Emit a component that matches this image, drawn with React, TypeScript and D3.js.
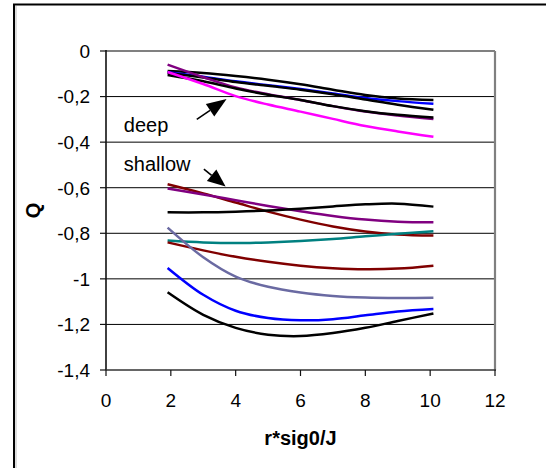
import React from "react";
import * as d3 from "d3";

// r*sig0/J sample positions shared by every curve
const xs = [1.9, 3, 4, 5, 6, 7, 8, 9, 10.1];

// deep group
const deepBlackA = [-0.088, -0.097, -0.11, -0.126, -0.146, -0.17, -0.193, -0.208, -0.215];
const deepBlue = [-0.093, -0.113, -0.133, -0.15, -0.167, -0.186, -0.206, -0.22, -0.232];
const deepBlackB = [-0.097, -0.116, -0.136, -0.153, -0.17, -0.19, -0.213, -0.236, -0.258];
const deepPurple = [-0.06, -0.115, -0.16, -0.19, -0.215, -0.242, -0.266, -0.283, -0.298];
const deepBlackC = [-0.105, -0.133, -0.165, -0.192, -0.215, -0.242, -0.264, -0.28, -0.292];
const deepMagenta = [-0.092, -0.145, -0.198, -0.235, -0.266, -0.298, -0.329, -0.353, -0.376];

// shallow group
const shMaroonUp = [-0.585, -0.625, -0.665, -0.705, -0.74, -0.77, -0.792, -0.805, -0.81];
const shPurple = [-0.603, -0.63, -0.655, -0.68, -0.703, -0.724, -0.74, -0.749, -0.752];
const shBlack = [-0.708, -0.708, -0.705, -0.7, -0.692, -0.682, -0.673, -0.67, -0.683];
const shTeal = [-0.832, -0.84, -0.843, -0.84, -0.834, -0.825, -0.813, -0.802, -0.791];
const shMaroonLow = [-0.84, -0.875, -0.903, -0.925, -0.942, -0.953, -0.958, -0.955, -0.942];
const shSlate = [-0.775, -0.905, -0.99, -1.035, -1.06, -1.075, -1.082, -1.084, -1.083];
const shBlue = [-0.952, -1.07, -1.14, -1.172, -1.182, -1.177, -1.16, -1.143, -1.132];
const shBlackLow = [-1.059, -1.158, -1.215, -1.245, -1.251, -1.238, -1.215, -1.185, -1.152];

const seriesList = [
  { values: deepBlackA, color: "#000000" },
  { values: deepBlue, color: "#0000ff" },
  { values: deepBlackB, color: "#000000" },
  { values: deepPurple, color: "#800080" },
  { values: deepBlackC, color: "#000000" },
  { values: deepMagenta, color: "#ff00ff" },
  { values: shMaroonUp, color: "#800000" },
  { values: shPurple, color: "#800080" },
  { values: shBlack, color: "#000000" },
  { values: shTeal, color: "#008080" },
  { values: shMaroonLow, color: "#800000" },
  { values: shSlate, color: "#6a6aa2" },
  { values: shBlue, color: "#0000ff" },
  { values: shBlackLow, color: "#000000" },
];

const xTicks = [0, 2, 4, 6, 8, 10, 12];
const yTicks = [0, -0.2, -0.4, -0.6, -0.8, -1, -1.2, -1.4];

// annotation arrows in data units: tail -> tip
const annotations = [
  { label: "deep", lx: 0.55, ly: -0.357, tail: [2.8, -0.3], tip: [3.72, -0.211] },
  { label: "shallow", lx: 0.55, ly: -0.525, tail: [3.02, -0.518], tip: [3.69, -0.595] },
];

const W = 546;
const H = 468;
const left = 106;
const right = 495;
const top = 51;
const bottom = 370;
const FONT = "'Liberation Sans', Arial, sans-serif";

const fmt = d3.formatLocale({
  decimal: ",",
  thousands: ".",
  grouping: [3],
  currency: ["", ""],
  minus: "-",
}).format("~g");

export default function App() {
  const x = d3.scaleLinear().domain([0, 12]).range([left, right]);
  const y = d3.scaleLinear().domain([-1.4, 0]).range([bottom, top]);
  const line = d3
    .line<number>()
    .x((_, i) => x(xs[i]))
    .y((d) => y(d))
    .curve(d3.curveCatmullRom.alpha(0.5));

  const arrow = (a: typeof annotations[number], headLen: number, headHalf: number) => {
    const tx = x(a.tail[0]);
    const ty = y(a.tail[1]);
    const px = x(a.tip[0]);
    const py = y(a.tip[1]);
    const dx = px - tx;
    const dy = py - ty;
    const len = Math.hypot(dx, dy);
    const ux = dx / len;
    const uy = dy / len;
    const bx = px - ux * headLen;
    const by = py - uy * headLen;
    const pts = [
      [px, py],
      [bx - uy * headHalf, by + ux * headHalf],
      [bx + uy * headHalf, by - ux * headHalf],
    ];
    return (
      <g>
        <line x1={tx} y1={ty} x2={bx} y2={by} stroke="#000" strokeWidth={1.6} />
        <polygon points={pts.map((p) => p.join(",")).join(" ")} fill="#000" />
      </g>
    );
  };

  return (
    <svg
      width={W}
      height={H}
      style={{ position: "absolute", left: 0, top: 0, background: "#fff" }}
      fontFamily={FONT}
    >
      <rect x={0} y={0} width={W} height={H} fill="#fff" />
      {/* chart frame */}
      <rect x={14} y={4.5} width={W + 20} height={H + 20} fill="none" stroke="#000" strokeWidth={2} />
      <line x1={16} y1={6} x2={16} y2={H} stroke="#bbb" strokeWidth={1} />

      {/* gridlines */}
      {yTicks
        .filter((t) => t !== 0 && t !== -1.4)
        .map((t) => (
          <line key={t} x1={left} x2={right} y1={y(t)} y2={y(t)} stroke="#000" strokeWidth={1} />
        ))}

      {/* plot area border */}
      <line x1={left} x2={right} y1={top} y2={top} stroke="#808080" strokeWidth={2} />
      <line x1={right} x2={right} y1={top} y2={bottom} stroke="#808080" strokeWidth={2.2} />

      {/* axes */}
      <line x1={left} x2={left} y1={top - 1} y2={bottom} stroke="#111" strokeWidth={1.6} />
      <line x1={left} x2={right + 1} y1={bottom} y2={bottom} stroke="#333" strokeWidth={1.6} />
      {yTicks.map((t) => (
        <g key={t}>
          <line x1={left - 6} x2={left} y1={y(t)} y2={y(t)} stroke="#111" strokeWidth={1.2} />
          <text x={90} y={y(t)} dy="0.36em" textAnchor="end" fontSize={19} fill="#000">
            {fmt(t)}
          </text>
        </g>
      ))}
      {xTicks.map((t) => (
        <g key={t}>
          <line x1={x(t)} x2={x(t)} y1={bottom} y2={bottom + 6} stroke="#111" strokeWidth={1.2} />
          <text x={x(t)} y={407} textAnchor="middle" fontSize={19} fill="#000">
            {fmt(t)}
          </text>
        </g>
      ))}

      {/* axis titles */}
      <text x={(left + right) / 2} y={445} textAnchor="middle" fontSize={20} fontWeight="bold">
        r*sig0/J
      </text>
      <text
        transform={`translate(40, ${(top + bottom) / 2}) rotate(-90)`}
        textAnchor="middle"
        fontSize={20}
        fontWeight="bold"
      >
        Q
      </text>

      {/* curves */}
      {seriesList.map((s, i) => (
        <path
          key={i}
          d={line(s.values) ?? ""}
          fill="none"
          stroke={s.color}
          strokeWidth={2.5}
          strokeLinejoin="round"
        />
      ))}

      {/* annotations */}
      {annotations.map((a, i) => (
        <g key={a.label}>
          <text x={x(a.lx)} y={y(a.ly)} fontSize={20} fill="#000">
            {a.label}
          </text>
          {arrow(a, i === 0 ? 20 : 18, 7.5)}
        </g>
      ))}
    </svg>
  );
}
